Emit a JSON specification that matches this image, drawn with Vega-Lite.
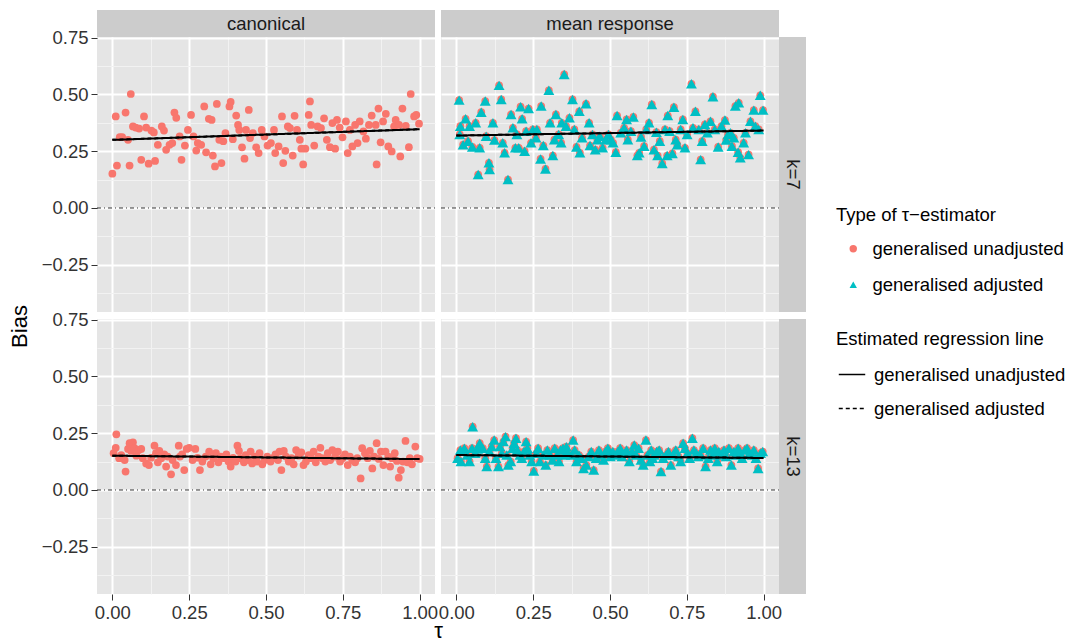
{
  "$schema": "https://vega.github.io/schema/vega-lite/v6.json",
  "padding": {"left": 8, "top": 10, "right": 5, "bottom": 5},
  "background": "white",
  "config": {
    "font": "Liberation Sans",
    "view": {"stroke": null},
    "axis": {
      "labelFont": "Liberation Sans", "labelFontSize": 18.5, "labelColor": "#333333",
      "titleFont": "Liberation Sans", "titleFontSize": 22, "titleFontWeight": "normal", "titleColor": "#000000",
      "tickColor": "#333333", "tickSize": 6, "tickWidth": 1, "labelPadding": 3, "domain": false, "tickCount": 20,
      "labelOverlap": false, "labelBound": false, "labelFlush": false
    },
    "legend": {
      "titleFont": "Liberation Sans", "titleFontSize": 18.5, "titleFontWeight": "normal", "titleColor": "#000000",
      "labelFont": "Liberation Sans", "labelFontSize": 18.5, "labelColor": "#000000",
      "labelLimit": 0, "titleLimit": 0,
      "symbolSize": 55, "rowPadding": 17, "titlePadding": 15, "labelOffset": 10, "symbolOffset": 8, "padding": 0
    }
  },
  "datasets": {
    "zero": [{"z": 0}],
    "c7": [
      {"t":0.000,"b":0.151},{"t":0.011,"b":0.403},{"t":0.015,"b":0.187},{"t":0.024,"b":0.312},{"t":0.032,"b":0.312},
      {"t":0.043,"b":0.420},{"t":0.051,"b":0.300},{"t":0.056,"b":0.187},{"t":0.060,"b":0.502},{"t":0.067,"b":0.359},
      {"t":0.076,"b":0.354},{"t":0.087,"b":0.350},{"t":0.094,"b":0.212},{"t":0.103,"b":0.403},{"t":0.110,"b":0.354},
      {"t":0.118,"b":0.195},{"t":0.127,"b":0.341},{"t":0.135,"b":0.333},{"t":0.139,"b":0.207},{"t":0.148,"b":0.278},
      {"t":0.161,"b":0.359},{"t":0.168,"b":0.341},{"t":0.175,"b":0.256},{"t":0.186,"b":0.278},{"t":0.195,"b":0.286},
      {"t":0.202,"b":0.420},{"t":0.208,"b":0.397},{"t":0.219,"b":0.315},{"t":0.225,"b":0.212},{"t":0.236,"b":0.275},
      {"t":0.246,"b":0.344},{"t":0.256,"b":0.410},{"t":0.264,"b":0.315},{"t":0.273,"b":0.253},{"t":0.278,"b":0.286},
      {"t":0.289,"b":0.278},{"t":0.299,"b":0.447},{"t":0.305,"b":0.245},{"t":0.314,"b":0.393},{"t":0.323,"b":0.388},
      {"t":0.327,"b":0.231},{"t":0.334,"b":0.183},{"t":0.340,"b":0.458},{"t":0.348,"b":0.300},{"t":0.355,"b":0.198},
      {"t":0.361,"b":0.294},{"t":0.368,"b":0.330},{"t":0.381,"b":0.447},{"t":0.385,"b":0.467},{"t":0.392,"b":0.303},
      {"t":0.403,"b":0.407},{"t":0.409,"b":0.366},{"t":0.413,"b":0.344},{"t":0.422,"b":0.267},{"t":0.430,"b":0.217},
      {"t":0.435,"b":0.344},{"t":0.444,"b":0.432},{"t":0.448,"b":0.308},{"t":0.457,"b":0.330},{"t":0.468,"b":0.267},
      {"t":0.476,"b":0.242},{"t":0.486,"b":0.344},{"t":0.495,"b":0.315},{"t":0.505,"b":0.275},{"t":0.516,"b":0.286},
      {"t":0.526,"b":0.344},{"t":0.530,"b":0.242},{"t":0.541,"b":0.271},{"t":0.552,"b":0.403},{"t":0.556,"b":0.198},
      {"t":0.563,"b":0.252},{"t":0.571,"b":0.359},{"t":0.578,"b":0.352},{"t":0.587,"b":0.231},{"t":0.593,"b":0.406},
      {"t":0.601,"b":0.344},{"t":0.610,"b":0.300},{"t":0.615,"b":0.261},{"t":0.621,"b":0.192},{"t":0.628,"b":0.261},
      {"t":0.639,"b":0.410},{"t":0.643,"b":0.469},{"t":0.647,"b":0.366},{"t":0.657,"b":0.275},{"t":0.668,"b":0.359},
      {"t":0.679,"b":0.352},{"t":0.689,"b":0.395},{"t":0.698,"b":0.300},{"t":0.708,"b":0.268},{"t":0.716,"b":0.374},
      {"t":0.725,"b":0.261},{"t":0.731,"b":0.388},{"t":0.740,"b":0.354},{"t":0.749,"b":0.311},{"t":0.760,"b":0.381},
      {"t":0.766,"b":0.242},{"t":0.773,"b":0.344},{"t":0.781,"b":0.271},{"t":0.790,"b":0.366},{"t":0.798,"b":0.286},
      {"t":0.805,"b":0.381},{"t":0.817,"b":0.337},{"t":0.825,"b":0.305},{"t":0.835,"b":0.366},{"t":0.844,"b":0.407},
      {"t":0.857,"b":0.366},{"t":0.860,"b":0.192},{"t":0.866,"b":0.438},{"t":0.873,"b":0.289},{"t":0.881,"b":0.381},
      {"t":0.890,"b":0.415},{"t":0.898,"b":0.271},{"t":0.909,"b":0.249},{"t":0.917,"b":0.359},{"t":0.922,"b":0.388},
      {"t":0.933,"b":0.366},{"t":0.937,"b":0.227},{"t":0.944,"b":0.438},{"t":0.955,"b":0.362},{"t":0.965,"b":0.268},
      {"t":0.971,"b":0.502},{"t":0.982,"b":0.403},{"t":0.989,"b":0.410},{"t":0.998,"b":0.371}
    ],
    "m7": [
      {"t":0.009,"b":0.475},{"t":0.013,"b":0.360},{"t":0.011,"b":0.324},{"t":0.022,"b":0.279},{"t":0.030,"b":0.393},
      {"t":0.038,"b":0.294},{"t":0.043,"b":0.360},{"t":0.052,"b":0.269},{"t":0.063,"b":0.375},{"t":0.071,"b":0.147},
      {"t":0.076,"b":0.265},{"t":0.081,"b":0.422},{"t":0.094,"b":0.471},{"t":0.097,"b":0.316},{"t":0.106,"b":0.199},
      {"t":0.108,"b":0.169},{"t":0.119,"b":0.375},{"t":0.124,"b":0.299},{"t":0.139,"b":0.540},{"t":0.146,"b":0.478},
      {"t":0.151,"b":0.287},{"t":0.157,"b":0.243},{"t":0.168,"b":0.125},{"t":0.178,"b":0.412},{"t":0.184,"b":0.353},
      {"t":0.192,"b":0.265},{"t":0.197,"b":0.324},{"t":0.203,"b":0.265},{"t":0.209,"b":0.446},{"t":0.214,"b":0.393},
      {"t":0.222,"b":0.250},{"t":0.227,"b":0.338},{"t":0.235,"b":0.438},{"t":0.243,"b":0.287},{"t":0.249,"b":0.346},
      {"t":0.259,"b":0.309},{"t":0.262,"b":0.346},{"t":0.274,"b":0.216},{"t":0.276,"b":0.449},{"t":0.283,"b":0.275},
      {"t":0.290,"b":0.172},{"t":0.301,"b":0.518},{"t":0.305,"b":0.375},{"t":0.314,"b":0.231},{"t":0.319,"b":0.301},
      {"t":0.324,"b":0.412},{"t":0.333,"b":0.324},{"t":0.341,"b":0.287},{"t":0.343,"b":0.375},{"t":0.351,"b":0.588},
      {"t":0.357,"b":0.360},{"t":0.368,"b":0.397},{"t":0.378,"b":0.478},{"t":0.384,"b":0.346},{"t":0.391,"b":0.269},
      {"t":0.400,"b":0.426},{"t":0.402,"b":0.243},{"t":0.409,"b":0.309},{"t":0.422,"b":0.459},{"t":0.432,"b":0.375},
      {"t":0.435,"b":0.275},{"t":0.443,"b":0.324},{"t":0.452,"b":0.257},{"t":0.459,"b":0.301},{"t":0.467,"b":0.316},
      {"t":0.476,"b":0.265},{"t":0.486,"b":0.301},{"t":0.495,"b":0.324},{"t":0.503,"b":0.301},{"t":0.510,"b":0.287},
      {"t":0.519,"b":0.246},{"t":0.523,"b":0.407},{"t":0.535,"b":0.331},{"t":0.546,"b":0.353},{"t":0.554,"b":0.390},
      {"t":0.558,"b":0.301},{"t":0.568,"b":0.338},{"t":0.576,"b":0.401},{"t":0.589,"b":0.231},{"t":0.595,"b":0.243},
      {"t":0.601,"b":0.313},{"t":0.611,"b":0.272},{"t":0.618,"b":0.346},{"t":0.627,"b":0.375},{"t":0.636,"b":0.456},
      {"t":0.643,"b":0.257},{"t":0.651,"b":0.334},{"t":0.655,"b":0.231},{"t":0.662,"b":0.294},{"t":0.670,"b":0.196},
      {"t":0.679,"b":0.346},{"t":0.686,"b":0.231},{"t":0.688,"b":0.407},{"t":0.694,"b":0.338},{"t":0.703,"b":0.240},
      {"t":0.708,"b":0.444},{"t":0.714,"b":0.301},{"t":0.719,"b":0.279},{"t":0.730,"b":0.346},{"t":0.737,"b":0.390},
      {"t":0.744,"b":0.265},{"t":0.751,"b":0.324},{"t":0.765,"b":0.547},{"t":0.770,"b":0.353},{"t":0.778,"b":0.426},
      {"t":0.789,"b":0.346},{"t":0.795,"b":0.213},{"t":0.800,"b":0.294},{"t":0.809,"b":0.368},{"t":0.817,"b":0.331},
      {"t":0.827,"b":0.382},{"t":0.835,"b":0.490},{"t":0.841,"b":0.346},{"t":0.852,"b":0.269},{"t":0.863,"b":0.360},
      {"t":0.874,"b":0.387},{"t":0.878,"b":0.299},{"t":0.884,"b":0.324},{"t":0.892,"b":0.331},{"t":0.897,"b":0.272},
      {"t":0.903,"b":0.309},{"t":0.908,"b":0.449},{"t":0.917,"b":0.246},{"t":0.919,"b":0.463},{"t":0.924,"b":0.221},
      {"t":0.935,"b":0.287},{"t":0.941,"b":0.331},{"t":0.951,"b":0.235},{"t":0.957,"b":0.382},{"t":0.968,"b":0.431},
      {"t":0.973,"b":0.360},{"t":0.984,"b":0.346},{"t":0.989,"b":0.496},{"t":0.998,"b":0.431}
    ],
    "c13": [
      {"t":0.004,"b":0.162},{"t":0.013,"b":0.245},{"t":0.011,"b":0.186},{"t":0.022,"b":0.140},{"t":0.029,"b":0.154},
      {"t":0.040,"b":0.132},{"t":0.043,"b":0.081},{"t":0.051,"b":0.181},{"t":0.056,"b":0.206},{"t":0.061,"b":0.172},
      {"t":0.067,"b":0.210},{"t":0.072,"b":0.184},{"t":0.078,"b":0.151},{"t":0.086,"b":0.176},{"t":0.094,"b":0.181},
      {"t":0.099,"b":0.140},{"t":0.110,"b":0.117},{"t":0.119,"b":0.110},{"t":0.126,"b":0.142},{"t":0.137,"b":0.195},
      {"t":0.142,"b":0.162},{"t":0.148,"b":0.122},{"t":0.153,"b":0.172},{"t":0.159,"b":0.140},{"t":0.169,"b":0.157},
      {"t":0.175,"b":0.103},{"t":0.180,"b":0.147},{"t":0.191,"b":0.069},{"t":0.196,"b":0.132},{"t":0.207,"b":0.110},
      {"t":0.216,"b":0.195},{"t":0.220,"b":0.147},{"t":0.227,"b":0.157},{"t":0.234,"b":0.088},{"t":0.242,"b":0.181},
      {"t":0.250,"b":0.186},{"t":0.261,"b":0.132},{"t":0.270,"b":0.181},{"t":0.277,"b":0.142},{"t":0.285,"b":0.088},
      {"t":0.293,"b":0.125},{"t":0.304,"b":0.147},{"t":0.315,"b":0.169},{"t":0.320,"b":0.113},{"t":0.328,"b":0.140},
      {"t":0.337,"b":0.162},{"t":0.345,"b":0.122},{"t":0.353,"b":0.147},{"t":0.364,"b":0.140},{"t":0.371,"b":0.157},
      {"t":0.378,"b":0.125},{"t":0.385,"b":0.103},{"t":0.393,"b":0.142},{"t":0.401,"b":0.125},{"t":0.407,"b":0.195},
      {"t":0.412,"b":0.172},{"t":0.417,"b":0.140},{"t":0.428,"b":0.122},{"t":0.434,"b":0.154},{"t":0.442,"b":0.132},
      {"t":0.450,"b":0.169},{"t":0.455,"b":0.117},{"t":0.464,"b":0.147},{"t":0.471,"b":0.125},{"t":0.479,"b":0.162},
      {"t":0.488,"b":0.113},{"t":0.496,"b":0.132},{"t":0.504,"b":0.147},{"t":0.515,"b":0.125},{"t":0.522,"b":0.140},
      {"t":0.531,"b":0.157},{"t":0.539,"b":0.132},{"t":0.544,"b":0.169},{"t":0.550,"b":0.088},{"t":0.558,"b":0.172},
      {"t":0.565,"b":0.147},{"t":0.574,"b":0.125},{"t":0.583,"b":0.140},{"t":0.590,"b":0.113},{"t":0.598,"b":0.176},
      {"t":0.606,"b":0.151},{"t":0.615,"b":0.166},{"t":0.622,"b":0.110},{"t":0.630,"b":0.125},{"t":0.639,"b":0.154},
      {"t":0.647,"b":0.140},{"t":0.655,"b":0.169},{"t":0.662,"b":0.122},{"t":0.671,"b":0.147},{"t":0.677,"b":0.186},
      {"t":0.684,"b":0.140},{"t":0.693,"b":0.125},{"t":0.701,"b":0.162},{"t":0.709,"b":0.132},{"t":0.716,"b":0.176},
      {"t":0.725,"b":0.147},{"t":0.734,"b":0.169},{"t":0.741,"b":0.125},{"t":0.749,"b":0.140},{"t":0.757,"b":0.157},
      {"t":0.766,"b":0.110},{"t":0.773,"b":0.147},{"t":0.781,"b":0.132},{"t":0.790,"b":0.122},{"t":0.797,"b":0.140},
      {"t":0.808,"b":0.051},{"t":0.813,"b":0.184},{"t":0.822,"b":0.162},{"t":0.831,"b":0.140},{"t":0.838,"b":0.172},
      {"t":0.846,"b":0.095},{"t":0.852,"b":0.147},{"t":0.860,"b":0.206},{"t":0.867,"b":0.137},{"t":0.874,"b":0.169},
      {"t":0.882,"b":0.110},{"t":0.889,"b":0.169},{"t":0.898,"b":0.147},{"t":0.904,"b":0.103},{"t":0.910,"b":0.140},
      {"t":0.919,"b":0.162},{"t":0.926,"b":0.128},{"t":0.932,"b":0.054},{"t":0.939,"b":0.088},{"t":0.946,"b":0.125},
      {"t":0.954,"b":0.216},{"t":0.960,"b":0.122},{"t":0.968,"b":0.140},{"t":0.975,"b":0.113},{"t":0.986,"b":0.191},
      {"t":0.992,"b":0.140},{"t":1.000,"b":0.137}
    ],
    "m13": [
      {"t":0.004,"b":0.140},{"t":0.013,"b":0.176},{"t":0.015,"b":0.125},{"t":0.026,"b":0.184},{"t":0.035,"b":0.154},
      {"t":0.043,"b":0.125},{"t":0.051,"b":0.184},{"t":0.053,"b":0.279},{"t":0.061,"b":0.162},{"t":0.069,"b":0.181},
      {"t":0.076,"b":0.206},{"t":0.086,"b":0.184},{"t":0.094,"b":0.140},{"t":0.099,"b":0.103},{"t":0.108,"b":0.169},
      {"t":0.115,"b":0.191},{"t":0.123,"b":0.220},{"t":0.129,"b":0.140},{"t":0.137,"b":0.103},{"t":0.142,"b":0.191},
      {"t":0.148,"b":0.162},{"t":0.153,"b":0.213},{"t":0.160,"b":0.235},{"t":0.164,"b":0.154},{"t":0.169,"b":0.110},
      {"t":0.177,"b":0.125},{"t":0.183,"b":0.184},{"t":0.188,"b":0.206},{"t":0.194,"b":0.228},{"t":0.198,"b":0.176},
      {"t":0.207,"b":0.154},{"t":0.213,"b":0.140},{"t":0.220,"b":0.169},{"t":0.227,"b":0.213},{"t":0.231,"b":0.184},
      {"t":0.239,"b":0.154},{"t":0.245,"b":0.125},{"t":0.252,"b":0.084},{"t":0.261,"b":0.162},{"t":0.266,"b":0.184},
      {"t":0.272,"b":0.125},{"t":0.283,"b":0.154},{"t":0.291,"b":0.110},{"t":0.296,"b":0.176},{"t":0.304,"b":0.154},
      {"t":0.313,"b":0.132},{"t":0.320,"b":0.184},{"t":0.328,"b":0.154},{"t":0.334,"b":0.125},{"t":0.339,"b":0.176},
      {"t":0.347,"b":0.184},{"t":0.353,"b":0.154},{"t":0.358,"b":0.191},{"t":0.364,"b":0.162},{"t":0.374,"b":0.154},
      {"t":0.380,"b":0.220},{"t":0.385,"b":0.176},{"t":0.391,"b":0.125},{"t":0.399,"b":0.154},{"t":0.407,"b":0.140},
      {"t":0.414,"b":0.095},{"t":0.423,"b":0.110},{"t":0.431,"b":0.147},{"t":0.439,"b":0.169},{"t":0.447,"b":0.088},
      {"t":0.455,"b":0.140},{"t":0.464,"b":0.176},{"t":0.471,"b":0.154},{"t":0.479,"b":0.132},{"t":0.485,"b":0.169},
      {"t":0.493,"b":0.184},{"t":0.501,"b":0.147},{"t":0.509,"b":0.169},{"t":0.518,"b":0.154},{"t":0.525,"b":0.169},
      {"t":0.533,"b":0.184},{"t":0.539,"b":0.147},{"t":0.547,"b":0.162},{"t":0.554,"b":0.176},{"t":0.563,"b":0.125},
      {"t":0.572,"b":0.169},{"t":0.579,"b":0.198},{"t":0.585,"b":0.154},{"t":0.593,"b":0.184},{"t":0.601,"b":0.132},
      {"t":0.608,"b":0.110},{"t":0.617,"b":0.220},{"t":0.622,"b":0.154},{"t":0.630,"b":0.125},{"t":0.634,"b":0.176},
      {"t":0.639,"b":0.140},{"t":0.644,"b":0.154},{"t":0.652,"b":0.169},{"t":0.660,"b":0.176},{"t":0.666,"b":0.081},
      {"t":0.673,"b":0.140},{"t":0.682,"b":0.154},{"t":0.690,"b":0.169},{"t":0.698,"b":0.110},{"t":0.705,"b":0.154},
      {"t":0.714,"b":0.176},{"t":0.723,"b":0.147},{"t":0.730,"b":0.125},{"t":0.738,"b":0.206},{"t":0.744,"b":0.184},
      {"t":0.752,"b":0.162},{"t":0.759,"b":0.140},{"t":0.768,"b":0.228},{"t":0.773,"b":0.176},{"t":0.781,"b":0.162},
      {"t":0.787,"b":0.147},{"t":0.795,"b":0.154},{"t":0.803,"b":0.184},{"t":0.811,"b":0.103},{"t":0.820,"b":0.140},
      {"t":0.827,"b":0.176},{"t":0.835,"b":0.154},{"t":0.841,"b":0.184},{"t":0.849,"b":0.125},{"t":0.854,"b":0.169},
      {"t":0.863,"b":0.154},{"t":0.871,"b":0.176},{"t":0.878,"b":0.147},{"t":0.887,"b":0.184},{"t":0.895,"b":0.110},
      {"t":0.903,"b":0.169},{"t":0.910,"b":0.154},{"t":0.917,"b":0.184},{"t":0.924,"b":0.162},{"t":0.930,"b":0.140},
      {"t":0.939,"b":0.176},{"t":0.946,"b":0.184},{"t":0.954,"b":0.162},{"t":0.962,"b":0.154},{"t":0.968,"b":0.176},
      {"t":0.975,"b":0.140},{"t":0.982,"b":0.095},{"t":0.990,"b":0.162},{"t":0.997,"b":0.169}
    ],
    "fits": [
      {"p":"c7","type":"unadjusted","t":0,"b":0.300},{"p":"c7","type":"unadjusted","t":1,"b":0.347},
      {"p":"c7","type":"adjusted","t":0,"b":0.300},{"p":"c7","type":"adjusted","t":1,"b":0.347},
      {"p":"m7","type":"unadjusted","t":0,"b":0.319},{"p":"m7","type":"unadjusted","t":1,"b":0.341},
      {"p":"m7","type":"adjusted","t":0,"b":0.319},{"p":"m7","type":"adjusted","t":1,"b":0.341},
      {"p":"c13","type":"unadjusted","t":0,"b":0.151},{"p":"c13","type":"unadjusted","t":1,"b":0.136},
      {"p":"c13","type":"adjusted","t":0,"b":0.151},{"p":"c13","type":"adjusted","t":1,"b":0.136},
      {"p":"m13","type":"unadjusted","t":0,"b":0.154},{"p":"m13","type":"unadjusted","t":1,"b":0.141},
      {"p":"m13","type":"adjusted","t":0,"b":0.154},{"p":"m13","type":"adjusted","t":1,"b":0.141}
    ]
  },
  "columns": 4,
  "align": "each",
  "bounds": "flush",
  "spacing": {"row": 0, "column": 0},
  "concat": [
    {
      "width": 338, "height": 27,
      "view": {"fill": "#CCCCCC", "stroke": null},
      "data": {"values": [{"s": "canonical"}]},
      "mark": {"type": "text", "fontSize": 18.5, "color": "#1A1A1A"},
      "encoding": {"text": {"field": "s", "type": "nominal"}}
    },
    {"width": 6, "height": 27, "data": {"values": [{}]}, "mark": {"type": "rect", "opacity": 0}},
    {
      "width": 338, "height": 27,
      "view": {"fill": "#CCCCCC", "stroke": null},
      "data": {"values": [{"s": "mean response"}]},
      "mark": {"type": "text", "fontSize": 18.5, "color": "#1A1A1A"},
      "encoding": {"text": {"field": "s", "type": "nominal"}}
    },
    {"width": 27, "height": 27, "data": {"values": [{}]}, "mark": {"type": "rect", "opacity": 0}},

    {
      "width": 338, "height": 275,
      "view": {"fill": "#E5E5E5", "stroke": null},
      "layer": [
        {
          "data": {"name": "c7"},
          "mark": {"type": "point", "filled": true, "opacity": 1, "size": 60},
          "encoding": {
            "x": {"field": "t", "type": "quantitative", "scale": {"domain": [-0.05, 1.05], "nice": false, "zero": false},
              "axis": {"values": [0, 0.125, 0.25, 0.375, 0.5, 0.625, 0.75, 0.875, 1], "tickCount": 20, "labels": false, "ticks": false, "title": null,
                "gridColor": {"condition": {"test": "datum.value % 0.25 != 0", "value": "#F2F2F2"}, "value": "#FFFFFF"},
                "gridWidth": {"condition": {"test": "datum.value % 0.25 != 0", "value": 1}, "value": 2}}},
            "y": {"field": "b", "type": "quantitative", "scale": {"domain": [-0.458, 0.753], "nice": false, "zero": false},
              "axis": {"values": [-0.375, -0.25, -0.125, 0, 0.125, 0.25, 0.375, 0.5, 0.625, 0.75], "tickCount": 20,
                "labelExpr": "datum.value % 0.25 != 0 ? '' : format(datum.value, '.2f')",
                "tickOpacity": {"condition": {"test": "datum.value % 0.25 != 0", "value": 0}, "value": 1},
                "gridColor": {"condition": {"test": "datum.value % 0.25 != 0", "value": "#F2F2F2"}, "value": "#FFFFFF"},
                "gridWidth": {"condition": {"test": "datum.value % 0.25 != 0", "value": 1}, "value": 2},
                "title": "Bias", "titleX": -78, "titleY": 289, "titleAngle": -90, "titleAlign": "center", "titleBaseline": "middle"}},
            "color": {"datum": "generalised unadjusted", "type": "nominal",
              "scale": {"domain": ["generalised unadjusted", "generalised adjusted"], "range": ["#F8766D", "#00BFC4"]},
              "legend": {"title": "Type of τ−estimator", "orient": "none", "legendX": 739, "legendY": 196}},
            "shape": {"datum": "generalised unadjusted", "type": "nominal",
              "scale": {"domain": ["generalised unadjusted", "generalised adjusted"], "range": ["circle", "triangle-up"]},
              "legend": {"title": "Type of τ−estimator", "orient": "none", "legendX": 739, "legendY": 196}}
          }
        },
        {
          "data": {"name": "zero"},
          "mark": {"type": "rule", "color": "#000000", "strokeWidth": 0.8, "strokeDash": [1, 3, 4, 3]},
          "encoding": {"y": {"field": "z", "type": "quantitative",
            "axis": {"values": [-0.375, -0.25, -0.125, 0, 0.125, 0.25, 0.375, 0.5, 0.625, 0.75], "tickCount": 20,
                "labelExpr": "datum.value % 0.25 != 0 ? '' : format(datum.value, '.2f')",
                "tickOpacity": {"condition": {"test": "datum.value % 0.25 != 0", "value": 0}, "value": 1},
                "gridColor": {"condition": {"test": "datum.value % 0.25 != 0", "value": "#F2F2F2"}, "value": "#FFFFFF"},
                "gridWidth": {"condition": {"test": "datum.value % 0.25 != 0", "value": 1}, "value": 2},
                "title": "Bias", "titleX": -78, "titleY": 289, "titleAngle": -90, "titleAlign": "center", "titleBaseline": "middle"}}}
        },
        {
          "data": {"name": "fits"},
          "transform": [{"filter": "datum.p == 'c7'"}],
          "mark": {"type": "line", "color": "#000000", "strokeWidth": 2},
          "encoding": {
            "x": {"field": "t", "type": "quantitative"},
            "y": {"field": "b", "type": "quantitative"},
            "strokeDash": {"field": "type", "type": "nominal",
              "scale": {"domain": ["unadjusted", "adjusted"], "range": [[1, 0], [4, 3]]},
              "legend": {"title": "Estimated regression line", "orient": "none", "legendX": 739, "legendY": 320,
                "labelExpr": "'generalised ' + datum.label", "rowPadding": 10, "titlePadding": 12, "labelOffset": 8,
                "symbolType": "stroke", "symbolStrokeColor": "#000000", "symbolStrokeWidth": 1.5, "symbolSize": 700, "symbolOffset": 2}}
          }
        }
      ]
    },
    {"width": 6, "height": 275, "data": {"values": [{}]}, "mark": {"type": "rect", "opacity": 0}},
    {
      "width": 338, "height": 275,
      "view": {"fill": "#E5E5E5", "stroke": null},
      "layer": [
        {
          "data": {"name": "m7"},
          "mark": {"type": "point", "filled": true, "opacity": 1, "size": 60},
          "encoding": {
            "x": {"field": "t", "type": "quantitative", "scale": {"domain": [-0.05, 1.05], "nice": false, "zero": false},
              "axis": {"values": [0, 0.125, 0.25, 0.375, 0.5, 0.625, 0.75, 0.875, 1], "tickCount": 20, "labels": false, "ticks": false, "title": null,
                "gridColor": {"condition": {"test": "datum.value % 0.25 != 0", "value": "#F2F2F2"}, "value": "#FFFFFF"},
                "gridWidth": {"condition": {"test": "datum.value % 0.25 != 0", "value": 1}, "value": 2}}},
            "y": {"field": "b", "type": "quantitative", "scale": {"domain": [-0.458, 0.753], "nice": false, "zero": false},
              "axis": {"values": [-0.375, -0.25, -0.125, 0, 0.125, 0.25, 0.375, 0.5, 0.625, 0.75], "tickCount": 20, "labels": false, "ticks": false, "title": null,
                "gridColor": {"condition": {"test": "datum.value % 0.25 != 0", "value": "#F2F2F2"}, "value": "#FFFFFF"},
                "gridWidth": {"condition": {"test": "datum.value % 0.25 != 0", "value": 1}, "value": 2}}},
            "color": {"datum": "generalised unadjusted", "type": "nominal",
              "scale": {"domain": ["generalised unadjusted", "generalised adjusted"], "range": ["#F8766D", "#00BFC4"]}},
            "shape": {"datum": "generalised unadjusted", "type": "nominal",
              "scale": {"domain": ["generalised unadjusted", "generalised adjusted"], "range": ["circle", "triangle-up"]}}
          }
        },
        {
          "data": {"name": "m7"},
          "mark": {"type": "point", "filled": true, "opacity": 1, "size": 120},
          "encoding": {
            "x": {"field": "t", "type": "quantitative"},
            "y": {"field": "b", "type": "quantitative"},
            "color": {"datum": "generalised adjusted", "type": "nominal"},
            "shape": {"datum": "generalised adjusted", "type": "nominal"}
          }
        },
        {
          "data": {"name": "zero"},
          "mark": {"type": "rule", "color": "#000000", "strokeWidth": 0.8, "strokeDash": [1, 3, 4, 3]},
          "encoding": {"y": {"field": "z", "type": "quantitative",
            "axis": {"values": [-0.375, -0.25, -0.125, 0, 0.125, 0.25, 0.375, 0.5, 0.625, 0.75], "tickCount": 20, "labels": false, "ticks": false, "title": null,
                "gridColor": {"condition": {"test": "datum.value % 0.25 != 0", "value": "#F2F2F2"}, "value": "#FFFFFF"},
                "gridWidth": {"condition": {"test": "datum.value % 0.25 != 0", "value": 1}, "value": 2}}}}
        },
        {
          "data": {"name": "fits"},
          "transform": [{"filter": "datum.p == 'm7'"}],
          "mark": {"type": "line", "color": "#000000", "strokeWidth": 2},
          "encoding": {
            "x": {"field": "t", "type": "quantitative"},
            "y": {"field": "b", "type": "quantitative"},
            "strokeDash": {"field": "type", "type": "nominal"}
          }
        }
      ]
    },
    {
      "width": 27, "height": 275,
      "view": {"fill": "#CCCCCC", "stroke": null},
      "data": {"values": [{"s": "k=7"}]},
      "mark": {"type": "text", "fontSize": 18.5, "color": "#1A1A1A", "angle": 90},
      "encoding": {"text": {"field": "s", "type": "nominal"}}
    },

    {"width": 338, "height": 7, "data": {"values": [{}]}, "mark": {"type": "rect", "opacity": 0}},
    {"width": 6, "height": 7, "data": {"values": [{}]}, "mark": {"type": "rect", "opacity": 0}},
    {"width": 338, "height": 7, "data": {"values": [{}]}, "mark": {"type": "rect", "opacity": 0}},
    {"width": 27, "height": 7, "data": {"values": [{}]}, "mark": {"type": "rect", "opacity": 0}},

    {
      "width": 338, "height": 275,
      "view": {"fill": "#E5E5E5", "stroke": null},
      "layer": [
        {
          "data": {"name": "c13"},
          "mark": {"type": "point", "filled": true, "opacity": 1, "size": 60},
          "encoding": {
            "x": {"field": "t", "type": "quantitative", "scale": {"domain": [-0.05, 1.05], "nice": false, "zero": false},
              "axis": {"values": [0, 0.125, 0.25, 0.375, 0.5, 0.625, 0.75, 0.875, 1], "tickCount": 20,
                "labelExpr": "datum.value % 0.25 != 0 ? '' : format(datum.value, '.2f')",
                "tickOpacity": {"condition": {"test": "datum.value % 0.25 != 0", "value": 0}, "value": 1},
                "gridColor": {"condition": {"test": "datum.value % 0.25 != 0", "value": "#F2F2F2"}, "value": "#FFFFFF"},
                "gridWidth": {"condition": {"test": "datum.value % 0.25 != 0", "value": 1}, "value": 2},
                "title": "τ", "titleX": 341, "titleY": 36, "titleAlign": "center", "titleBaseline": "middle"}},
            "y": {"field": "b", "type": "quantitative", "scale": {"domain": [-0.458, 0.753], "nice": false, "zero": false},
              "axis": {"values": [-0.375, -0.25, -0.125, 0, 0.125, 0.25, 0.375, 0.5, 0.625, 0.75], "tickCount": 20,
                "labelExpr": "datum.value % 0.25 != 0 ? '' : format(datum.value, '.2f')",
                "tickOpacity": {"condition": {"test": "datum.value % 0.25 != 0", "value": 0}, "value": 1},
                "gridColor": {"condition": {"test": "datum.value % 0.25 != 0", "value": "#F2F2F2"}, "value": "#FFFFFF"},
                "gridWidth": {"condition": {"test": "datum.value % 0.25 != 0", "value": 1}, "value": 2},
                "title": null}},
            "color": {"datum": "generalised unadjusted", "type": "nominal",
              "scale": {"domain": ["generalised unadjusted", "generalised adjusted"], "range": ["#F8766D", "#00BFC4"]}},
            "shape": {"datum": "generalised unadjusted", "type": "nominal",
              "scale": {"domain": ["generalised unadjusted", "generalised adjusted"], "range": ["circle", "triangle-up"]}}
          }
        },
        {
          "data": {"name": "zero"},
          "mark": {"type": "rule", "color": "#000000", "strokeWidth": 0.8, "strokeDash": [1, 3, 4, 3]},
          "encoding": {"y": {"field": "z", "type": "quantitative",
            "axis": {"values": [-0.375, -0.25, -0.125, 0, 0.125, 0.25, 0.375, 0.5, 0.625, 0.75], "tickCount": 20,
                "labelExpr": "datum.value % 0.25 != 0 ? '' : format(datum.value, '.2f')",
                "tickOpacity": {"condition": {"test": "datum.value % 0.25 != 0", "value": 0}, "value": 1},
                "gridColor": {"condition": {"test": "datum.value % 0.25 != 0", "value": "#F2F2F2"}, "value": "#FFFFFF"},
                "gridWidth": {"condition": {"test": "datum.value % 0.25 != 0", "value": 1}, "value": 2},
                "title": null}}}
        },
        {
          "data": {"name": "fits"},
          "transform": [{"filter": "datum.p == 'c13'"}],
          "mark": {"type": "line", "color": "#000000", "strokeWidth": 2},
          "encoding": {
            "x": {"field": "t", "type": "quantitative"},
            "y": {"field": "b", "type": "quantitative"},
            "strokeDash": {"field": "type", "type": "nominal"}
          }
        }
      ]
    },
    {"width": 6, "height": 275, "data": {"values": [{}]}, "mark": {"type": "rect", "opacity": 0}},
    {
      "width": 338, "height": 275,
      "view": {"fill": "#E5E5E5", "stroke": null},
      "layer": [
        {
          "data": {"name": "m13"},
          "mark": {"type": "point", "filled": true, "opacity": 1, "size": 60},
          "encoding": {
            "x": {"field": "t", "type": "quantitative", "scale": {"domain": [-0.05, 1.05], "nice": false, "zero": false},
              "axis": {"values": [0, 0.125, 0.25, 0.375, 0.5, 0.625, 0.75, 0.875, 1], "tickCount": 20,
                "labelExpr": "datum.value % 0.25 != 0 ? '' : format(datum.value, '.2f')",
                "tickOpacity": {"condition": {"test": "datum.value % 0.25 != 0", "value": 0}, "value": 1},
                "gridColor": {"condition": {"test": "datum.value % 0.25 != 0", "value": "#F2F2F2"}, "value": "#FFFFFF"},
                "gridWidth": {"condition": {"test": "datum.value % 0.25 != 0", "value": 1}, "value": 2},
                "title": null}},
            "y": {"field": "b", "type": "quantitative", "scale": {"domain": [-0.458, 0.753], "nice": false, "zero": false},
              "axis": {"values": [-0.375, -0.25, -0.125, 0, 0.125, 0.25, 0.375, 0.5, 0.625, 0.75], "tickCount": 20, "labels": false, "ticks": false, "title": null,
                "gridColor": {"condition": {"test": "datum.value % 0.25 != 0", "value": "#F2F2F2"}, "value": "#FFFFFF"},
                "gridWidth": {"condition": {"test": "datum.value % 0.25 != 0", "value": 1}, "value": 2}}},
            "color": {"datum": "generalised unadjusted", "type": "nominal",
              "scale": {"domain": ["generalised unadjusted", "generalised adjusted"], "range": ["#F8766D", "#00BFC4"]}},
            "shape": {"datum": "generalised unadjusted", "type": "nominal",
              "scale": {"domain": ["generalised unadjusted", "generalised adjusted"], "range": ["circle", "triangle-up"]}}
          }
        },
        {
          "data": {"name": "m13"},
          "mark": {"type": "point", "filled": true, "opacity": 1, "size": 120},
          "encoding": {
            "x": {"field": "t", "type": "quantitative"},
            "y": {"field": "b", "type": "quantitative"},
            "color": {"datum": "generalised adjusted", "type": "nominal"},
            "shape": {"datum": "generalised adjusted", "type": "nominal"}
          }
        },
        {
          "data": {"name": "zero"},
          "mark": {"type": "rule", "color": "#000000", "strokeWidth": 0.8, "strokeDash": [1, 3, 4, 3]},
          "encoding": {"y": {"field": "z", "type": "quantitative",
            "axis": {"values": [-0.375, -0.25, -0.125, 0, 0.125, 0.25, 0.375, 0.5, 0.625, 0.75], "tickCount": 20, "labels": false, "ticks": false, "title": null,
                "gridColor": {"condition": {"test": "datum.value % 0.25 != 0", "value": "#F2F2F2"}, "value": "#FFFFFF"},
                "gridWidth": {"condition": {"test": "datum.value % 0.25 != 0", "value": 1}, "value": 2}}}}
        },
        {
          "data": {"name": "fits"},
          "transform": [{"filter": "datum.p == 'm13'"}],
          "mark": {"type": "line", "color": "#000000", "strokeWidth": 2},
          "encoding": {
            "x": {"field": "t", "type": "quantitative"},
            "y": {"field": "b", "type": "quantitative"},
            "strokeDash": {"field": "type", "type": "nominal"}
          }
        }
      ]
    },
    {
      "width": 27, "height": 275,
      "view": {"fill": "#CCCCCC", "stroke": null},
      "data": {"values": [{"s": "k=13"}]},
      "mark": {"type": "text", "fontSize": 18.5, "color": "#1A1A1A", "angle": 90},
      "encoding": {"text": {"field": "s", "type": "nominal"}}
    }
  ]
}
